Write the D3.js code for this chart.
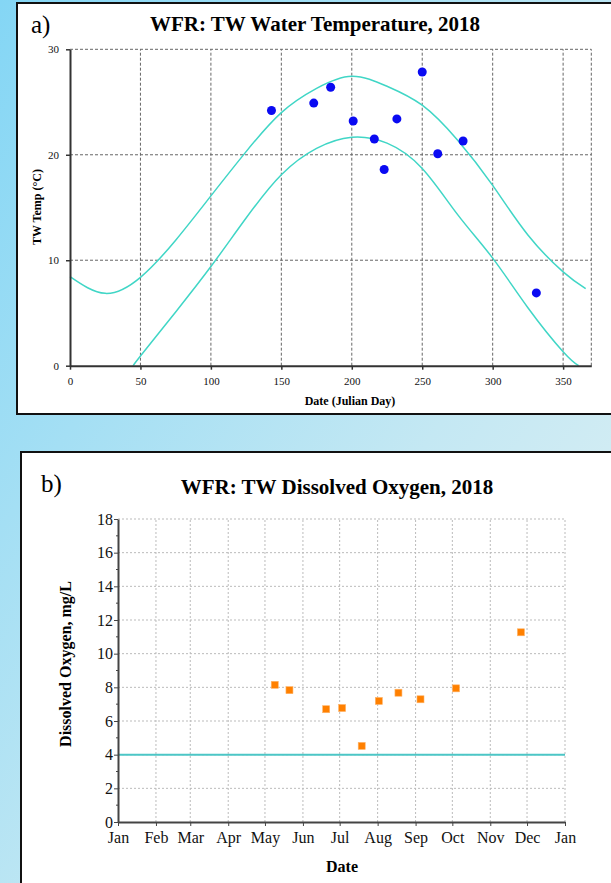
<!DOCTYPE html>
<html>
<head>
<meta charset="utf-8">
<script src="https://cdn.jsdelivr.net/npm/d3@7"></script>
<style>
  body { margin: 0; overflow: hidden; }
  svg { display: block; }
  text { font-family: "Liberation Serif", "Times New Roman", serif; }
</style>
</head>
<body>
<svg id="chart" width="611" height="883"></svg>
<script>
// ---- panel a) water temperature ----
const tempDays = [143, 173, 185, 201, 216, 223, 232, 250, 261, 279, 331];
const tempValues = [24.2, 24.9, 26.4, 23.2, 21.5, 18.6, 23.4, 27.85, 20.1, 21.3, 6.9];

// upper / lower envelope curves as [day, degC]
const upperCurve = [[0, 8.44], [25, 6.86], [50, 8.38], [75, 11.9], [100, 16.1], [125, 20.3], [150, 24.0],
    [175, 26.3], [200, 27.45], [225, 26.5], [250, 24.7], [275, 21.4], [300, 17.1], [325, 12.4],
    [350, 8.9], [366, 7.3]];
const lowerCurve = [[45, 0], [50, 0.92], [75, 5.1], [100, 9.4], [125, 14.0], [150, 18.1], [175, 20.6],
    [200, 21.66], [225, 21.1], [250, 18.7], [275, 14.35], [300, 10.2], [325, 5.5], [350, 1.33], [361, 0]];

const dayTicks = [0, 50, 100, 150, 200, 250, 300, 350];
const tempTicks = [0, 10, 20, 30];

// ---- panel b) dissolved oxygen ----
const doDates = ["2018-05-09", "2018-05-21", "2018-06-20", "2018-07-03", "2018-07-19",
    "2018-08-02", "2018-08-18", "2018-09-05", "2018-10-04", "2018-11-26"];
const doValues = [8.15, 7.83, 6.7, 6.77, 4.52, 7.19, 7.68, 7.29, 7.94, 11.27];
const doThreshold = 4;
const monthLabels = ["Jan", "Feb", "Mar", "Apr", "May", "Jun", "Jul", "Aug", "Sep", "Oct", "Nov", "Dec", "Jan"];
const doTicks = [0, 2, 4, 6, 8, 10, 12, 14, 16, 18];
const doMinorTicks = [1, 3, 5, 7, 9, 11, 13, 15, 17];

const svg = d3.select("#chart");

// background
const defs = svg.append("defs");
const grad = defs.append("linearGradient")
    .attr("id", "bg")
    .attr("x1", 0).attr("y1", 0).attr("x2", 1).attr("y2", 1);
grad.append("stop").attr("offset", "0%").attr("stop-color", "#84d6f5");
grad.append("stop").attr("offset", "60%").attr("stop-color", "#c4e8f3");
grad.append("stop").attr("offset", "100%").attr("stop-color", "#e4f2f3");
svg.append("rect").attr("width", 611).attr("height", 883).attr("fill", "url(#bg)");

// panels
svg.append("rect")
    .attr("x", 17).attr("y", 3).attr("width", 620).attr("height", 411)
    .attr("fill", "white").attr("stroke", "#111").attr("stroke-width", 2);
svg.append("rect")
    .attr("x", 21).attr("y", 452).attr("width", 620).attr("height", 460)
    .attr("fill", "white").attr("stroke", "#111").attr("stroke-width", 2);

// ================= top chart =================
const x1 = d3.scaleLinear().domain([0, 370]).range([70, 591.3]);
const y1 = d3.scaleLinear().domain([0, 30]).range([365.7, 49.3]);

const gTop = svg.append("g");

// grid
gTop.selectAll(".vgrid")
    .data(dayTicks.filter(d => d > 0).concat([370]))
    .enter().append("line")
    .attr("x1", d => x1(d)).attr("x2", d => x1(d))
    .attr("y1", y1(0)).attr("y2", y1(30))
    .attr("stroke", "#666").attr("stroke-width", 1).attr("stroke-dasharray", "3,2");
gTop.selectAll(".hgrid")
    .data(tempTicks.filter(d => d > 0))
    .enter().append("line")
    .attr("x1", x1(0)).attr("x2", x1(370))
    .attr("y1", d => y1(d)).attr("y2", d => y1(d))
    .attr("stroke", "#666").attr("stroke-width", 1).attr("stroke-dasharray", "3,2");

// curves
const line1 = d3.line()
    .x(d => x1(d[0]))
    .y(d => y1(d[1]))
    .curve(d3.curveNatural);
[upperCurve, lowerCurve].forEach(c => {
    gTop.append("path")
        .attr("d", line1(c))
        .attr("fill", "none")
        .attr("stroke", "#40d6c6")
        .attr("stroke-width", 1.5);
});

// axes
const xAxis1 = gTop.append("g")
    .attr("transform", `translate(0,${y1(0)})`)
    .call(d3.axisBottom(x1).tickValues(dayTicks).tickSize(4).tickSizeOuter(0).tickPadding(8));
const yAxis1 = gTop.append("g")
    .attr("transform", `translate(${x1(0)},0)`)
    .call(d3.axisLeft(y1).tickValues(tempTicks).tickSize(4).tickSizeOuter(0).tickPadding(7));
[xAxis1, yAxis1].forEach(a => {
    a.select(".domain").attr("stroke", "#333").attr("stroke-width", 2);
    a.selectAll(".tick line").attr("stroke", "#333").attr("stroke-width", 1.5);
    a.selectAll("text").attr("font-family", "Liberation Serif").attr("font-size", 11).attr("fill", "#111");
});

// points
gTop.selectAll(".dot")
    .data(tempDays.map((d, i) => [d, tempValues[i]]))
    .enter().append("circle")
    .attr("cx", d => x1(d[0]))
    .attr("cy", d => y1(d[1]))
    .attr("r", 4.5)
    .attr("fill", "#0a0af2");

// labels
svg.append("text")
    .attr("x", 315).attr("y", 31)
    .attr("text-anchor", "middle")
    .attr("font-size", 21).attr("font-weight", "bold")
    .text("WFR: TW Water Temperature, 2018");
svg.append("text")
    .attr("x", 31).attr("y", 33)
    .attr("font-size", 25)
    .text("a)");
svg.append("text")
    .attr("transform", "translate(41,207) rotate(-90)")
    .attr("text-anchor", "middle")
    .attr("font-size", 12).attr("font-weight", "bold")
    .text("TW Temp (°C)");
svg.append("text")
    .attr("x", 350).attr("y", 405)
    .attr("text-anchor", "middle")
    .attr("font-size", 12).attr("font-weight", "bold")
    .text("Date (Julian Day)");

// ================= bottom chart =================
const parse = d3.timeParse("%Y-%m-%d");
const x2 = d3.scaleTime().domain([new Date(2018, 0, 1), new Date(2019, 0, 1)]).range([118, 565]);
const y2 = d3.scaleLinear().domain([0, 18]).range([822, 519]);
const monthDates = monthLabels.map((m, i) => new Date(2018, i, 1));

const gBot = svg.append("g");

gBot.selectAll(".vgrid")
    .data(monthDates.slice(1))
    .enter().append("line")
    .attr("x1", d => x2(d)).attr("x2", d => x2(d))
    .attr("y1", y2(0)).attr("y2", y2(18))
    .attr("stroke", "#bbb").attr("stroke-width", 1).attr("stroke-dasharray", "2,2");
gBot.selectAll(".hgrid")
    .data(doTicks.filter(d => d > 0))
    .enter().append("line")
    .attr("x1", x2.range()[0]).attr("x2", x2.range()[1])
    .attr("y1", d => y2(d)).attr("y2", d => y2(d))
    .attr("stroke", "#bbb").attr("stroke-width", 1).attr("stroke-dasharray", "2,2");

// threshold line
gBot.append("line")
    .attr("x1", x2.range()[0]).attr("x2", x2.range()[1])
    .attr("y1", y2(doThreshold)).attr("y2", y2(doThreshold))
    .attr("stroke", "#4cc6c6").attr("stroke-width", 2);

const xAxis2 = gBot.append("g")
    .attr("transform", `translate(0,${y2(0)})`)
    .call(d3.axisBottom(x2).tickValues(monthDates)
        .tickFormat((d, i) => monthLabels[i])
        .tickSize(4).tickSizeOuter(0).tickPadding(6));
const yAxis2 = gBot.append("g")
    .attr("transform", `translate(${x2.range()[0]},0)`)
    .call(d3.axisLeft(y2).tickValues(doTicks).tickSize(4).tickSizeOuter(0).tickPadding(1));
[xAxis2, yAxis2].forEach(a => {
    a.select(".domain").attr("stroke", "#444").attr("stroke-width", 2);
    a.selectAll(".tick line").attr("stroke", "#444").attr("stroke-width", 1);
    a.selectAll("text").attr("font-family", "Liberation Serif").attr("font-size", 16).attr("fill", "#111");
});
gBot.selectAll(".minor")
    .data(doMinorTicks)
    .enter().append("line")
    .attr("x1", x2.range()[0] - 2).attr("x2", x2.range()[0])
    .attr("y1", d => y2(d)).attr("y2", d => y2(d))
    .attr("stroke", "#444").attr("stroke-width", 1);

gBot.selectAll(".sq")
    .data(doDates.map((d, i) => [parse(d), doValues[i]]))
    .enter().append("rect")
    .attr("x", d => x2(d[0]) - 3.5)
    .attr("y", d => y2(d[1]) - 3.5)
    .attr("width", 7).attr("height", 7)
    .attr("fill", "#ff8000")
    .attr("stroke", "#ffb366").attr("stroke-width", 0.6);

svg.append("text")
    .attr("x", 337).attr("y", 494)
    .attr("text-anchor", "middle")
    .attr("font-size", 21).attr("font-weight", "bold")
    .text("WFR: TW Dissolved Oxygen, 2018");
svg.append("text")
    .attr("x", 41).attr("y", 492)
    .attr("font-size", 25)
    .text("b)");
svg.append("text")
    .attr("transform", "translate(71,664) rotate(-90)")
    .attr("text-anchor", "middle")
    .attr("font-size", 16).attr("font-weight", "bold")
    .text("Dissolved Oxygen, mg/L");
svg.append("text")
    .attr("x", 342).attr("y", 872)
    .attr("text-anchor", "middle")
    .attr("font-size", 16).attr("font-weight", "bold")
    .text("Date");
</script>
</body>
</html>
